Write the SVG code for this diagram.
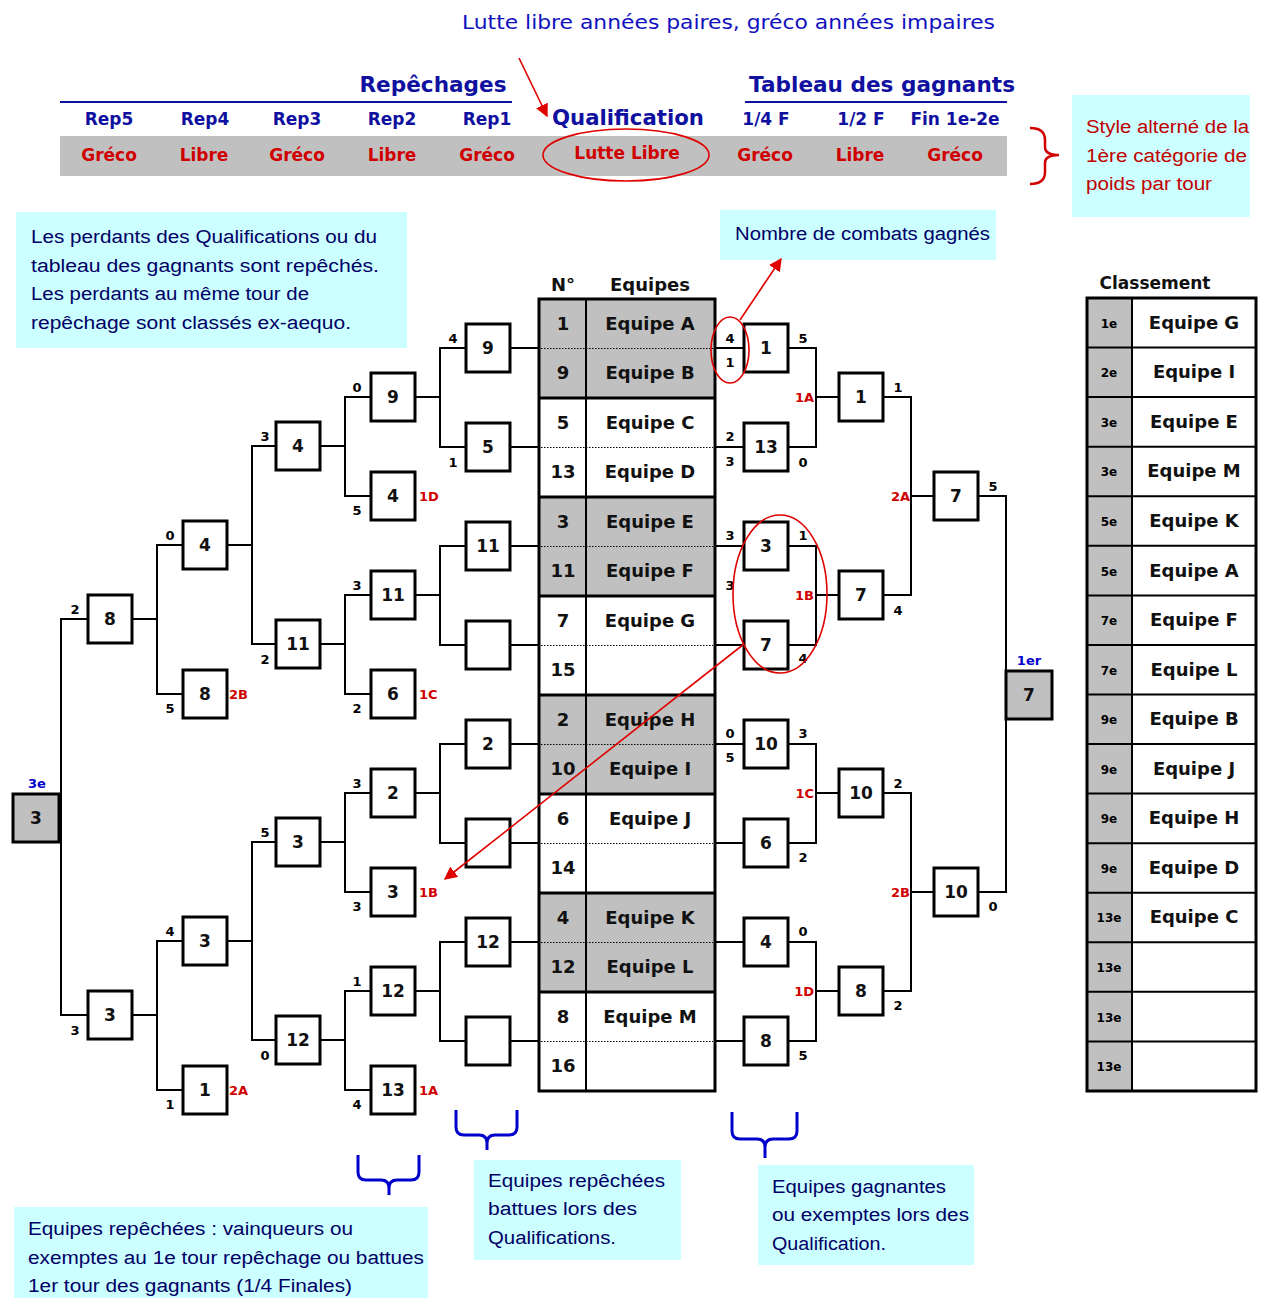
<svg xmlns="http://www.w3.org/2000/svg" width="1263" height="1298" viewBox="0 0 1263 1298">
<defs>
<style>
.box{fill:#fff;stroke:#000;stroke-width:3}
.gbox{fill:#c0c0c0;stroke:#000;stroke-width:3}
.bn{font-family:"DejaVu Sans",sans-serif;font-weight:bold;font-size:17px;text-anchor:middle;fill:#111}
.tn{font-family:"DejaVu Sans",sans-serif;font-weight:bold;font-size:18px;text-anchor:middle;fill:#111}
.sc{font-family:"DejaVu Sans",sans-serif;font-weight:bold;font-size:13px;text-anchor:middle;fill:#000}
.rl{font-family:"DejaVu Sans",sans-serif;font-weight:bold;font-size:13px;fill:#d00000}
.rk{font-family:"DejaVu Sans",sans-serif;font-weight:bold;font-size:12px;text-anchor:middle;fill:#000}
.bl{font-family:"DejaVu Sans",sans-serif;font-weight:bold;font-size:13px;text-anchor:middle;fill:#0000cc}
.conn{fill:none;stroke:#000;stroke-width:2}
.hd{font-family:"DejaVu Sans",sans-serif;font-weight:bold;fill:#1010a0;text-anchor:middle}
.rd{font-family:"DejaVu Sans",sans-serif;font-weight:bold;font-size:17px;fill:#d00000;text-anchor:middle}
.info{fill:#ccffff}
.it{font-family:"Liberation Sans",sans-serif;font-size:18px;fill:#000066}
.itr{font-family:"Liberation Sans",sans-serif;font-size:18px;fill:#c00000}
.redl{fill:none;stroke:#e00000;stroke-width:1.6}
.brace{fill:none;stroke:#0000cc;stroke-width:3;stroke-linejoin:round}
.dot{stroke:#000;stroke-width:1;stroke-dasharray:1.5 1.5}
.sep{stroke:#000;stroke-width:3}
</style>
<marker id="ah" viewBox="0 0 10 10" refX="9" refY="5" markerWidth="13" markerHeight="13" markerUnits="userSpaceOnUse" orient="auto"><path d="M0,0 L10,5 L0,10 z" fill="#e00000"/></marker>
</defs>
<rect width="1263" height="1298" fill="#fff"/>

<!-- Header -->
<g id="header">
<text x="462" y="29" font-family="DejaVu Sans,sans-serif" font-size="19" fill="#1010c0" textLength="533" lengthAdjust="spacingAndGlyphs">Lutte libre années paires, gréco années impaires</text>
<text class="hd" x="433" y="92" font-size="22" textLength="147" lengthAdjust="spacingAndGlyphs">Repêchages</text>
<text class="hd" x="882" y="92" font-size="22" textLength="266" lengthAdjust="spacingAndGlyphs">Tableau des gagnants</text>
<line x1="60" y1="102" x2="512" y2="102" stroke="#1010a0" stroke-width="2"/>
<line x1="745" y1="102" x2="1007" y2="102" stroke="#1010a0" stroke-width="2"/>
<g font-size="17">
<text class="hd" x="109" y="125">Rep5</text>
<text class="hd" x="205" y="125">Rep4</text>
<text class="hd" x="297" y="125">Rep3</text>
<text class="hd" x="392" y="125">Rep2</text>
<text class="hd" x="487" y="125">Rep1</text>
<text class="hd" x="766" y="125">1/4 F</text>
<text class="hd" x="861" y="125">1/2 F</text>
<text class="hd" x="955" y="125">Fin 1e-2e</text>
</g>
<text class="hd" x="628" y="125" font-size="21" textLength="152" lengthAdjust="spacingAndGlyphs">Qualification</text>
<rect x="60" y="136" width="947" height="40" fill="#c0c0c0"/>
<text class="rd" x="109" y="161">Gréco</text>
<text class="rd" x="204" y="161">Libre</text>
<text class="rd" x="297" y="161">Gréco</text>
<text class="rd" x="392" y="161">Libre</text>
<text class="rd" x="487" y="161">Gréco</text>
<text class="rd" x="627" y="159">Lutte Libre</text>
<text class="rd" x="765" y="161">Gréco</text>
<text class="rd" x="860" y="161">Libre</text>
<text class="rd" x="955" y="161">Gréco</text>
<ellipse cx="626" cy="155" rx="83" ry="26" class="redl"/>
<line x1="519" y1="58" x2="547" y2="116" class="redl" marker-end="url(#ah)"/>
<path d="M1030,128 Q1045,128 1045,140 L1045,147 Q1045,155 1059,155 Q1045,155 1045,163 L1045,172 Q1045,184 1030,184" fill="none" stroke="#d00000" stroke-width="2.5"/>
</g>

<g id="note-style">
<rect class="info" x="1072" y="95" width="178" height="122"/>
<text class="itr" x="1086" y="133" textLength="163" lengthAdjust="spacingAndGlyphs">Style alterné de la</text>
<text class="itr" x="1086" y="162" textLength="161" lengthAdjust="spacingAndGlyphs">1ère catégorie de</text>
<text class="itr" x="1086" y="190" textLength="126" lengthAdjust="spacingAndGlyphs">poids par tour</text>
</g>

<g id="note-perdants">
<rect class="info" x="16" y="212" width="391" height="136"/>
<text class="it" x="31" y="243" textLength="346" lengthAdjust="spacingAndGlyphs">Les perdants des Qualifications ou du</text>
<text class="it" x="31" y="272" textLength="348" lengthAdjust="spacingAndGlyphs">tableau des gagnants sont repêchés.</text>
<text class="it" x="31" y="300" textLength="278" lengthAdjust="spacingAndGlyphs">Les perdants au même tour de</text>
<text class="it" x="31" y="329" textLength="320" lengthAdjust="spacingAndGlyphs">repêchage sont classés ex-aequo.</text>
</g>

<g id="note-combats">
<rect class="info" x="720" y="210" width="276" height="50"/>
<text class="it" x="735" y="240" textLength="255" lengthAdjust="spacingAndGlyphs">Nombre de combats gagnés</text>
</g>

<!-- Connectors -->
<g id="connectors" class="conn">
<path d="M510,348H539M510,447H539M510,546H539M510,645H539M510,744H539M510,843H539M510,942H539M510,1041H539"/>
<path d="M715,348H744M715,447H744M715,546H744M715,645H744M715,744H744M715,843H744M715,942H744M715,1041H744"/>
<path d="M466,348H440V447H466M440,397H415M466,546H440V645H466M440,595H415M466,744H440V843H466M440,793H415M466,942H440V1041H466M440,991H415"/>
<path d="M371,397H345V496H371M345,446H320M371,595H345V694H371M345,644H320M371,793H345V892H371M345,842H320M371,991H345V1090H371M345,1040H320"/>
<path d="M276,446H252V644H276M252,545H227M276,842H252V1040H276M252,941H227"/>
<path d="M183,545H157V694H183M157,619H132M183,941H157V1090H183M157,1015H132"/>
<path d="M88,619H61V1015H88"/>
<path d="M788,348H816V447H788M816,397H839M788,546H816V645H788M816,595H839M788,744H816V843H788M816,793H839M788,942H816V1041H788M816,991H839"/>
<path d="M883,397H911V595H883M911,496H934M883,793H911V991H883M911,892H934"/>
<path d="M978,496H1006V892H978"/>
</g>

<!-- Central table -->
<g id="equipes">
<text class="tn" x="563" y="291">N°</text>
<text class="tn" x="650" y="291">Equipes</text>
<rect x="539" y="299" width="176" height="99" fill="#c0c0c0"/>
<rect x="539" y="497" width="176" height="99" fill="#c0c0c0"/>
<rect x="539" y="695" width="176" height="99" fill="#c0c0c0"/>
<rect x="539" y="893" width="176" height="99" fill="#c0c0c0"/>
<line class="dot" x1="541" x2="713" y1="348.5" y2="348.5"/>
<line class="dot" x1="541" x2="713" y1="447.5" y2="447.5"/>
<line class="dot" x1="541" x2="713" y1="546.5" y2="546.5"/>
<line class="dot" x1="541" x2="713" y1="645.5" y2="645.5"/>
<line class="dot" x1="541" x2="713" y1="744.5" y2="744.5"/>
<line class="dot" x1="541" x2="713" y1="843.5" y2="843.5"/>
<line class="dot" x1="541" x2="713" y1="942.5" y2="942.5"/>
<line class="dot" x1="541" x2="713" y1="1041.5" y2="1041.5"/>
<line class="sep" x1="539" x2="715" y1="398" y2="398"/>
<line class="sep" x1="539" x2="715" y1="497" y2="497"/>
<line class="sep" x1="539" x2="715" y1="596" y2="596"/>
<line class="sep" x1="539" x2="715" y1="695" y2="695"/>
<line class="sep" x1="539" x2="715" y1="794" y2="794"/>
<line class="sep" x1="539" x2="715" y1="893" y2="893"/>
<line class="sep" x1="539" x2="715" y1="992" y2="992"/>
<line x1="586" x2="586" y1="299" y2="1091" stroke="#000" stroke-width="2"/>
<rect x="539" y="299" width="176" height="792" fill="none" stroke="#000" stroke-width="3"/>
<g class="tn">
<text x="563" y="330">1</text><text x="650" y="330">Equipe A</text>
<text x="563" y="379">9</text><text x="650" y="379">Equipe B</text>
<text x="563" y="429">5</text><text x="650" y="429">Equipe C</text>
<text x="563" y="478">13</text><text x="650" y="478">Equipe D</text>
<text x="563" y="528">3</text><text x="650" y="528">Equipe E</text>
<text x="563" y="577">11</text><text x="650" y="577">Equipe F</text>
<text x="563" y="627">7</text><text x="650" y="627">Equipe G</text>
<text x="563" y="676">15</text>
<text x="563" y="726">2</text><text x="650" y="726">Equipe H</text>
<text x="563" y="775">10</text><text x="650" y="775">Equipe I</text>
<text x="563" y="825">6</text><text x="650" y="825">Equipe J</text>
<text x="563" y="874">14</text>
<text x="563" y="924">4</text><text x="650" y="924">Equipe K</text>
<text x="563" y="973">12</text><text x="650" y="973">Equipe L</text>
<text x="563" y="1023">8</text><text x="650" y="1023">Equipe M</text>
<text x="563" y="1072">16</text>
</g>
</g>

<!-- Repechage boxes -->
<g id="rep1">
<g id="r1-1"><rect class="box" x="466" y="324" width="44" height="48"/><text class="bn" x="488" y="354">9</text></g>
<g id="r1-2"><rect class="box" x="466" y="423" width="44" height="48"/><text class="bn" x="488" y="453">5</text></g>
<g id="r1-3"><rect class="box" x="466" y="522" width="44" height="48"/><text class="bn" x="488" y="552">11</text></g>
<g id="r1-4"><rect class="box" x="466" y="621" width="44" height="48"/></g>
<g id="r1-5"><rect class="box" x="466" y="720" width="44" height="48"/><text class="bn" x="488" y="750">2</text></g>
<g id="r1-6"><rect class="box" x="466" y="819" width="44" height="48"/></g>
<g id="r1-7"><rect class="box" x="466" y="918" width="44" height="48"/><text class="bn" x="488" y="948">12</text></g>
<g id="r1-8"><rect class="box" x="466" y="1017" width="44" height="48"/></g>
</g>
<g id="rep2">
<g id="r2-1"><rect class="box" x="371" y="373" width="44" height="48"/><text class="bn" x="393" y="403">9</text></g>
<g id="r2-2"><rect class="box" x="371" y="472" width="44" height="48"/><text class="bn" x="393" y="502">4</text></g>
<g id="r2-3"><rect class="box" x="371" y="571" width="44" height="48"/><text class="bn" x="393" y="601">11</text></g>
<g id="r2-4"><rect class="box" x="371" y="670" width="44" height="48"/><text class="bn" x="393" y="700">6</text></g>
<g id="r2-5"><rect class="box" x="371" y="769" width="44" height="48"/><text class="bn" x="393" y="799">2</text></g>
<g id="r2-6"><rect class="box" x="371" y="868" width="44" height="48"/><text class="bn" x="393" y="898">3</text></g>
<g id="r2-7"><rect class="box" x="371" y="967" width="44" height="48"/><text class="bn" x="393" y="997">12</text></g>
<g id="r2-8"><rect class="box" x="371" y="1066" width="44" height="48"/><text class="bn" x="393" y="1096">13</text></g>
</g>
<g id="rep3">
<g id="r3-1"><rect class="box" x="276" y="422" width="44" height="48"/><text class="bn" x="298" y="452">4</text></g>
<g id="r3-2"><rect class="box" x="276" y="620" width="44" height="48"/><text class="bn" x="298" y="650">11</text></g>
<g id="r3-3"><rect class="box" x="276" y="818" width="44" height="48"/><text class="bn" x="298" y="848">3</text></g>
<g id="r3-4"><rect class="box" x="276" y="1016" width="44" height="48"/><text class="bn" x="298" y="1046">12</text></g>
</g>
<g id="rep4">
<g id="r4-1"><rect class="box" x="183" y="521" width="44" height="48"/><text class="bn" x="205" y="551">4</text></g>
<g id="r4-2"><rect class="box" x="183" y="670" width="44" height="48"/><text class="bn" x="205" y="700">8</text></g>
<g id="r4-3"><rect class="box" x="183" y="917" width="44" height="48"/><text class="bn" x="205" y="947">3</text></g>
<g id="r4-4"><rect class="box" x="183" y="1066" width="44" height="48"/><text class="bn" x="205" y="1096">1</text></g>
</g>
<g id="rep5">
<g id="r5-1"><rect class="box" x="88" y="595" width="44" height="48"/><text class="bn" x="110" y="625">8</text></g>
<g id="r5-2"><rect class="box" x="88" y="991" width="44" height="48"/><text class="bn" x="110" y="1021">3</text></g>
</g>
<g id="third">
<rect class="gbox" x="13" y="794" width="46" height="48"/><text class="bn" x="36" y="824">3</text>
<text class="bl" x="37" y="788">3e</text>
</g>

<!-- Winners boxes -->
<g id="quarts">
<g id="q-1"><rect class="box" x="744" y="324" width="44" height="48"/><text class="bn" x="766" y="354">1</text></g>
<g id="q-2"><rect class="box" x="744" y="423" width="44" height="48"/><text class="bn" x="766" y="453">13</text></g>
<g id="q-3"><rect class="box" x="744" y="522" width="44" height="48"/><text class="bn" x="766" y="552">3</text></g>
<g id="q-4"><rect class="box" x="744" y="621" width="44" height="48"/><text class="bn" x="766" y="651">7</text></g>
<g id="q-5"><rect class="box" x="744" y="720" width="44" height="48"/><text class="bn" x="766" y="750">10</text></g>
<g id="q-6"><rect class="box" x="744" y="819" width="44" height="48"/><text class="bn" x="766" y="849">6</text></g>
<g id="q-7"><rect class="box" x="744" y="918" width="44" height="48"/><text class="bn" x="766" y="948">4</text></g>
<g id="q-8"><rect class="box" x="744" y="1017" width="44" height="48"/><text class="bn" x="766" y="1047">8</text></g>
</g>
<g id="demis">
<g id="d-1"><rect class="box" x="839" y="373" width="44" height="48"/><text class="bn" x="861" y="403">1</text></g>
<g id="d-2"><rect class="box" x="839" y="571" width="44" height="48"/><text class="bn" x="861" y="601">7</text></g>
<g id="d-3"><rect class="box" x="839" y="769" width="44" height="48"/><text class="bn" x="861" y="799">10</text></g>
<g id="d-4"><rect class="box" x="839" y="967" width="44" height="48"/><text class="bn" x="861" y="997">8</text></g>
</g>
<g id="finale">
<g id="f-1"><rect class="box" x="934" y="472" width="44" height="48"/><text class="bn" x="956" y="502">7</text></g>
<g id="f-2"><rect class="box" x="934" y="868" width="44" height="48"/><text class="bn" x="956" y="898">10</text></g>
</g>
<g id="first">
<rect class="gbox" x="1006" y="671" width="46" height="48"/><text class="bn" x="1029" y="701">7</text>
<text class="bl" x="1029" y="665">1er</text>
</g>

<!-- Scores -->
<g id="scores" class="sc">
<text x="730" y="343">4</text><text x="730" y="367">1</text>
<text x="730" y="441">2</text><text x="730" y="466">3</text>
<text x="730" y="540">3</text><text x="730" y="590">3</text>
<text x="730" y="738">0</text><text x="730" y="762">5</text>
<text x="803" y="343">5</text><text x="803" y="467">0</text>
<text x="803" y="540">1</text><text x="803" y="663">4</text>
<text x="803" y="738">3</text><text x="803" y="862">2</text>
<text x="803" y="936">0</text><text x="803" y="1060">5</text>
<text x="898" y="392">1</text><text x="898" y="615">4</text>
<text x="898" y="788">2</text><text x="898" y="1010">2</text>
<text x="993" y="491">5</text><text x="993" y="911">0</text>
<text x="453" y="343">4</text><text x="453" y="467">1</text>
<text x="357" y="392">0</text><text x="357" y="515">5</text>
<text x="357" y="590">3</text><text x="357" y="713">2</text>
<text x="357" y="788">3</text><text x="357" y="911">3</text>
<text x="357" y="986">1</text><text x="357" y="1109">4</text>
<text x="265" y="441">3</text><text x="265" y="664">2</text>
<text x="265" y="837">5</text><text x="265" y="1060">0</text>
<text x="170" y="540">0</text><text x="170" y="713">5</text>
<text x="170" y="936">4</text><text x="170" y="1109">1</text>
<text x="75" y="614">2</text><text x="75" y="1035">3</text>
</g>

<g id="labels" class="rl">
<text x="419" y="501">1D</text><text x="419" y="699">1C</text>
<text x="419" y="897">1B</text><text x="419" y="1095">1A</text>
<text x="229" y="699">2B</text><text x="229" y="1095">2A</text>
<g text-anchor="end">
<text x="814" y="402">1A</text><text x="814" y="600">1B</text>
<text x="814" y="798">1C</text><text x="814" y="996">1D</text>
<text x="910" y="501">2A</text><text x="910" y="897">2B</text>
</g>
</g>

<!-- Red annotations -->
<g id="annotations">
<ellipse cx="730" cy="350" rx="19" ry="33" class="redl"/>
<ellipse cx="780" cy="594" rx="47" ry="79" class="redl"/>
<line x1="740" y1="320" x2="781" y2="259" class="redl" marker-end="url(#ah)"/>
<line x1="744" y1="644" x2="445" y2="879" class="redl" marker-end="url(#ah)"/>
</g>

<!-- Classement -->
<g id="classement">
<text x="1155" y="289" font-family="DejaVu Sans,sans-serif" font-weight="bold" font-size="17" text-anchor="middle" fill="#111">Classement</text>
<rect x="1087" y="298" width="45" height="793" fill="#c0c0c0"/>
<g stroke="#000" stroke-width="2">
<line x1="1087" x2="1256" y1="347.6" y2="347.6"/><line x1="1087" x2="1256" y1="397.1" y2="397.1"/>
<line x1="1087" x2="1256" y1="446.7" y2="446.7"/><line x1="1087" x2="1256" y1="496.2" y2="496.2"/>
<line x1="1087" x2="1256" y1="545.8" y2="545.8"/><line x1="1087" x2="1256" y1="595.4" y2="595.4"/>
<line x1="1087" x2="1256" y1="644.9" y2="644.9"/><line x1="1087" x2="1256" y1="694.5" y2="694.5"/>
<line x1="1087" x2="1256" y1="744" y2="744"/><line x1="1087" x2="1256" y1="793.6" y2="793.6"/>
<line x1="1087" x2="1256" y1="843.2" y2="843.2"/><line x1="1087" x2="1256" y1="892.7" y2="892.7"/>
<line x1="1087" x2="1256" y1="942.3" y2="942.3"/><line x1="1087" x2="1256" y1="991.8" y2="991.8"/>
<line x1="1087" x2="1256" y1="1041.4" y2="1041.4"/>
<line x1="1132" x2="1132" y1="298" y2="1091"/>
</g>
<rect x="1087" y="298" width="169" height="793" fill="none" stroke="#000" stroke-width="3"/>
<g class="rk">
<text x="1109" y="328">1e</text><text x="1109" y="377">2e</text><text x="1109" y="427">3e</text><text x="1109" y="476">3e</text>
<text x="1109" y="526">5e</text><text x="1109" y="576">5e</text><text x="1109" y="625">7e</text><text x="1109" y="675">7e</text>
<text x="1109" y="724">9e</text><text x="1109" y="774">9e</text><text x="1109" y="823">9e</text><text x="1109" y="873">9e</text>
<text x="1109" y="922">13e</text><text x="1109" y="972">13e</text><text x="1109" y="1022">13e</text><text x="1109" y="1071">13e</text>
</g>
<g class="tn">
<text x="1194" y="329">Equipe G</text><text x="1194" y="378">Equipe I</text><text x="1194" y="428">Equipe E</text>
<text x="1194" y="477">Equipe M</text><text x="1194" y="527">Equipe K</text><text x="1194" y="577">Equipe A</text>
<text x="1194" y="626">Equipe F</text><text x="1194" y="676">Equipe L</text><text x="1194" y="725">Equipe B</text>
<text x="1194" y="775">Equipe J</text><text x="1194" y="824">Equipe H</text><text x="1194" y="874">Equipe D</text>
<text x="1194" y="923">Equipe C</text>
</g>
</g>

<!-- Bottom braces and notes -->
<g id="braces">
<path class="brace" d="M358,1155 V1172 Q358,1180 366,1180 H381 Q389,1180 389,1188 V1195 M389,1188 Q389,1180 397,1180 H411 Q419,1180 419,1172 V1155"/>
<path class="brace" d="M456,1110 V1127 Q456,1135 464,1135 H479 Q487,1135 487,1143 V1150 M487,1143 Q487,1135 495,1135 H509 Q517,1135 517,1127 V1110"/>
<path class="brace" d="M732,1112 V1131 Q732,1139 740,1139 H757 Q765,1139 765,1147 V1158 M765,1147 Q765,1139 773,1139 H789 Q797,1139 797,1131 V1112"/>
</g>
<g id="note-repechees">
<rect class="info" x="14" y="1207" width="414" height="91"/>
<text class="it" x="28" y="1235" textLength="325" lengthAdjust="spacingAndGlyphs">Equipes repêchées : vainqueurs ou</text>
<text class="it" x="28" y="1264" textLength="396" lengthAdjust="spacingAndGlyphs">exemptes au 1e tour repêchage ou battues</text>
<text class="it" x="28" y="1292" textLength="324" lengthAdjust="spacingAndGlyphs">1er tour des gagnants (1/4 Finales)</text>
</g>
<g id="note-battues">
<rect class="info" x="474" y="1160" width="207" height="100"/>
<text class="it" x="488" y="1187" textLength="177" lengthAdjust="spacingAndGlyphs">Equipes repêchées</text>
<text class="it" x="488" y="1215" textLength="149" lengthAdjust="spacingAndGlyphs">battues lors des</text>
<text class="it" x="488" y="1244" textLength="128" lengthAdjust="spacingAndGlyphs">Qualifications.</text>
</g>
<g id="note-gagnantes">
<rect class="info" x="758" y="1165" width="216" height="100"/>
<text class="it" x="772" y="1193" textLength="174" lengthAdjust="spacingAndGlyphs">Equipes gagnantes</text>
<text class="it" x="772" y="1221" textLength="197" lengthAdjust="spacingAndGlyphs">ou exemptes lors des</text>
<text class="it" x="772" y="1250" textLength="114" lengthAdjust="spacingAndGlyphs">Qualification.</text>
</g>
</svg>
